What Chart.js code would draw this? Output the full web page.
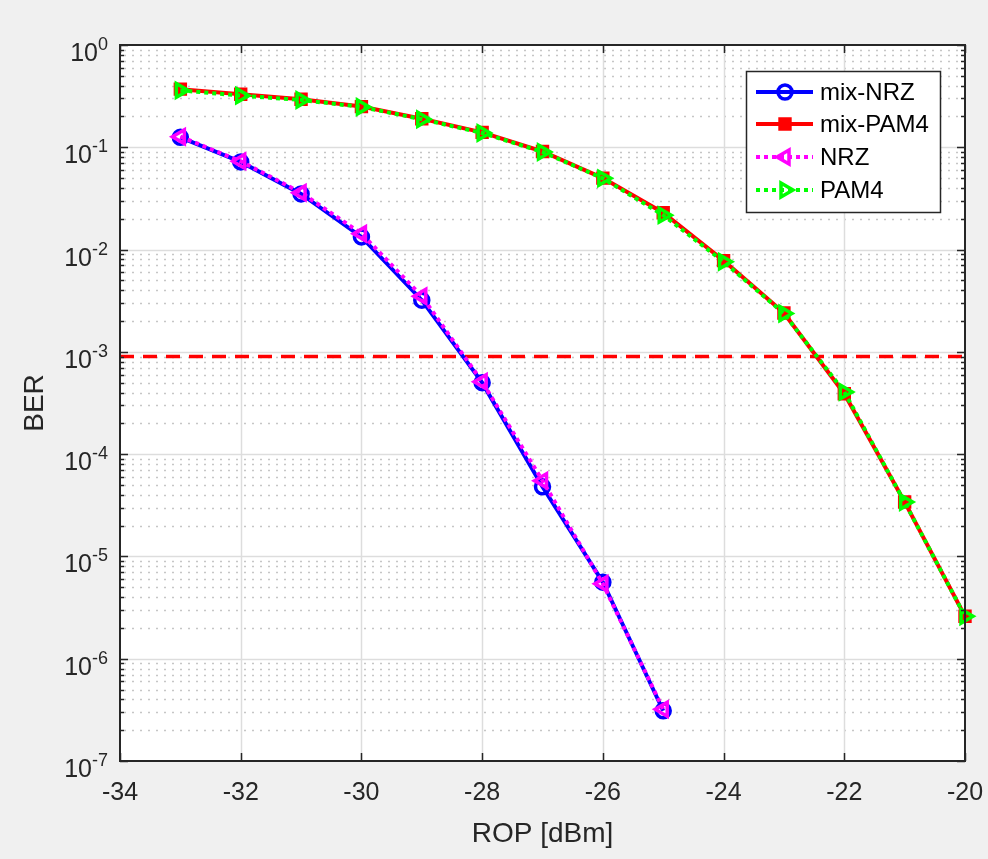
<!DOCTYPE html>
<html>
<head>
<meta charset="utf-8">
<title>BER vs ROP</title>
<script src="https://cdn.jsdelivr.net/npm/chart.js@4.4.1/dist/chart.umd.min.js"></script>
<style>
	html, body { margin: 0; padding: 0; background: #f0f0f0; }
	#berChart { display: block; }
</style>
</head>
<body>
<canvas id="berChart" width="988" height="859"></canvas>
<script>
// values
var ropNrz = [-33, -32, -31, -30, -29, -28, -27, -26, -25];
var ropPam4 = [-33, -32, -31, -30, -29, -28, -27, -26, -25, -24, -23, -22, -21, -20];

var berMixNrz = [0.125, 0.072, 0.035, 0.0133, 0.0032, 0.00050, 4.8e-5, 5.6e-6, 3.1e-7];
var berNrz = [0.127, 0.073, 0.036, 0.0143, 0.0035, 0.00051, 5.5e-5, 5.4e-6, 3.2e-7];
var berMixPam4 = [0.37, 0.33, 0.295, 0.25, 0.19, 0.14, 0.091, 0.050, 0.0229, 0.0078, 0.0024, 3.9e-4, 3.4e-5, 2.6e-6];
var berPam4 = [0.36, 0.32, 0.29, 0.248, 0.188, 0.138, 0.090, 0.0497, 0.0217, 0.0076, 0.00237, 4.06e-4, 3.4e-5, 2.6e-6];

var thresholdRop = [-34, -20];
var thresholdBer = [9e-4, 9e-4];

var xTicks = [-34, -32, -30, -28, -26, -24, -22, -20];
var yExponents = [0, -1, -2, -3, -4, -5, -6, -7];

var seriesNames = ['mix-NRZ', 'mix-PAM4', 'NRZ', 'PAM4'];

var FONT = "'Liberation Sans', Arial, sans-serif";
var AXIS_COLOR = '#262626';

function toPoints(xs, ys)
{
	var out = [];
	for (var i = 0; i < xs.length; i++)
	{
		out.push({x: xs[i], y: ys[i]});
	}
	return out;
}

// same shapes chart.js uses, for the hand drawn legend
function drawMarker(ctx, ds, x, y)
{
	var r = ds.pointRadius;
	ctx.save();
	ctx.setLineDash([]);
	ctx.lineWidth = ds.pointBorderWidth;
	ctx.strokeStyle = ds.pointBorderColor;
	ctx.fillStyle = ds.pointBackgroundColor;
	ctx.beginPath();
	if (ds.pointStyle === 'circle')
	{
		ctx.arc(x, y, r, 0, Math.PI * 2);
	}
	else if (ds.pointStyle === 'rect')
	{
		var s = r * Math.SQRT1_2;
		ctx.rect(x - s, y - s, 2 * s, 2 * s);
	}
	else
	{
		var rad = (ds.pointRotation || 0) * Math.PI / 180;
		ctx.moveTo(x + Math.sin(rad) * r, y - Math.cos(rad) * r);
		rad += Math.PI * 2 / 3;
		ctx.lineTo(x + Math.sin(rad) * r, y - Math.cos(rad) * r);
		rad += Math.PI * 2 / 3;
		ctx.lineTo(x + Math.sin(rad) * r, y - Math.cos(rad) * r);
		ctx.closePath();
	}
	ctx.fill();
	ctx.stroke();
	ctx.restore();
}

var matlabAxes = {
	id: 'matlabAxes',
	beforeDraw: function (chart)
	{
		var ctx = chart.ctx;
		var a = chart.chartArea;
		ctx.save();
		ctx.fillStyle = '#f0f0f0';
		ctx.fillRect(0, 0, chart.width, chart.height);
		ctx.fillStyle = '#ffffff';
		ctx.fillRect(a.left, a.top, a.right - a.left, a.bottom - a.top);
		ctx.restore();
	},
	beforeDatasetsDraw: function (chart)
	{
		var ctx = chart.ctx;
		var a = chart.chartArea;
		var xs = chart.scales.x;
		var ys = chart.scales.y;
		var i, k, y, x;
		ctx.save();
		// minor grid, dotted
		ctx.strokeStyle = '#c6c6c6';
		ctx.lineWidth = 1.6;
		ctx.setLineDash([2, 6]);
		ctx.lineDashOffset = -4;
		for (i = 0; i < yExponents.length - 1; i++)
		{
			for (k = 2; k <= 9; k++)
			{
				y = Math.round(ys.getPixelForValue(k * Math.pow(10, yExponents[i + 1]))) + 0.5;
				ctx.beginPath();
				ctx.moveTo(a.left, y);
				ctx.lineTo(a.right, y);
				ctx.stroke();
			}
		}
		// major grid
		ctx.setLineDash([]);
		ctx.strokeStyle = '#dddddd';
		ctx.lineWidth = 1.5;
		for (i = 1; i < yExponents.length - 1; i++)
		{
			y = Math.round(ys.getPixelForValue(Math.pow(10, yExponents[i]))) + 0.5;
			ctx.beginPath();
			ctx.moveTo(a.left, y);
			ctx.lineTo(a.right, y);
			ctx.stroke();
		}
		for (i = 1; i < xTicks.length - 1; i++)
		{
			x = Math.round(xs.getPixelForValue(xTicks[i])) + 0.5;
			ctx.beginPath();
			ctx.moveTo(x, a.top);
			ctx.lineTo(x, a.bottom);
			ctx.stroke();
		}
		ctx.restore();
	},
	afterDatasetsDraw: function (chart)
	{
		var ctx = chart.ctx;
		var a = chart.chartArea;
		var xs = chart.scales.x;
		var ys = chart.scales.y;
		var i, k, x, y;
		ctx.save();
		ctx.strokeStyle = AXIS_COLOR;
		ctx.lineWidth = 2;
		ctx.setLineDash([]);
		ctx.strokeRect(a.left, a.top, a.right - a.left, a.bottom - a.top);

		// ticks, inside, all four sides
		ctx.lineWidth = 1.5;
		ctx.beginPath();
		for (i = 0; i < xTicks.length; i++)
		{
			x = Math.round(xs.getPixelForValue(xTicks[i])) + 0.5;
			ctx.moveTo(x, a.bottom); ctx.lineTo(x, a.bottom - 8);
			ctx.moveTo(x, a.top); ctx.lineTo(x, a.top + 8);
		}
		for (i = 0; i < yExponents.length; i++)
		{
			y = Math.round(ys.getPixelForValue(Math.pow(10, yExponents[i]))) + 0.5;
			ctx.moveTo(a.left, y); ctx.lineTo(a.left + 8, y);
			ctx.moveTo(a.right, y); ctx.lineTo(a.right - 8, y);
			if (i < yExponents.length - 1)
			{
				for (k = 2; k <= 9; k++)
				{
					y = Math.round(ys.getPixelForValue(k * Math.pow(10, yExponents[i + 1]))) + 0.5;
					ctx.moveTo(a.left, y); ctx.lineTo(a.left + 4, y);
					ctx.moveTo(a.right, y); ctx.lineTo(a.right - 4, y);
				}
			}
		}
		ctx.stroke();

		// tick labels
		ctx.fillStyle = AXIS_COLOR;
		ctx.textBaseline = 'alphabetic';
		ctx.textAlign = 'center';
		ctx.font = '25px ' + FONT;
		for (i = 0; i < xTicks.length; i++)
		{
			ctx.fillText(String(xTicks[i]), xs.getPixelForValue(xTicks[i]), a.bottom + 39);
		}
		ctx.textAlign = 'right';
		for (i = 0; i < yExponents.length; i++)
		{
			y = ys.getPixelForValue(Math.pow(10, yExponents[i]));
			var ex = String(yExponents[i]);
			ctx.font = '18px ' + FONT;
			var w = ctx.measureText(ex).width;
			ctx.fillText(ex, 108, y + 5);
			ctx.font = '25px ' + FONT;
			ctx.fillText('10', 108 - w, y + 16);
		}

		// axis titles
		ctx.font = '28px ' + FONT;
		ctx.textAlign = 'center';
		ctx.fillText('ROP [dBm]', (a.left + a.right) / 2, 842);
		ctx.translate(43, (a.top + a.bottom) / 2);
		ctx.rotate(-Math.PI / 2);
		ctx.fillText('BER', 0, 0);
		ctx.restore();

		// legend box
		var lx = 746, ly = 71, lw = 194, lh = 141;
		ctx.save();
		ctx.fillStyle = '#ffffff';
		ctx.fillRect(lx, ly, lw, lh);
		ctx.strokeStyle = AXIS_COLOR;
		ctx.lineWidth = 1.5;
		ctx.strokeRect(lx + 0.5, ly + 0.5, lw, lh);
		var rows = [92, 124, 157, 190];
		for (i = 0; i < seriesNames.length; i++)
		{
			var ds = chart.data.datasets[i];
			ctx.strokeStyle = ds.borderColor;
			ctx.lineWidth = ds.borderWidth;
			ctx.setLineDash(ds.borderDash || []);
			ctx.beginPath();
			ctx.moveTo(756, rows[i]);
			ctx.lineTo(813, rows[i]);
			ctx.stroke();
			drawMarker(ctx, ds, 785, rows[i]);
			ctx.fillStyle = '#000000';
			ctx.font = '24px ' + FONT;
			ctx.textAlign = 'left';
			ctx.textBaseline = 'middle';
			ctx.fillText(seriesNames[i], 820, rows[i] + 1);
		}
		ctx.restore();
	}
};

var ctx = document.getElementById('berChart');
var berChart = new Chart(ctx, {
	type: 'line',
	data: {
		datasets: [
		{
			label: seriesNames[0],
			data: toPoints(ropNrz, berMixNrz),
			borderColor: '#0000ff',
			borderWidth: 4,
			pointStyle: 'circle',
			pointRadius: 7,
			pointBorderWidth: 3.5,
			pointBorderColor: '#0000ff',
			pointBackgroundColor: 'rgba(0,0,0,0)',
			order: 4
		},
		{
			label: seriesNames[1],
			data: toPoints(ropPam4, berMixPam4),
			borderColor: '#ff0000',
			borderWidth: 4,
			pointStyle: 'rect',
			pointRadius: 7,
			pointBorderWidth: 3.5,
			pointBorderColor: '#ff0000',
			pointBackgroundColor: '#ff0000',
			order: 3
		},
		{
			label: seriesNames[2],
			data: toPoints(ropNrz, berNrz),
			borderColor: '#ff00ff',
			borderWidth: 4,
			borderDash: [4, 4],
			pointStyle: 'triangle',
			pointRotation: -90,
			pointRadius: 8,
			pointBorderWidth: 3.5,
			pointBorderColor: '#ff00ff',
			pointBackgroundColor: 'rgba(0,0,0,0)',
			order: 2
		},
		{
			label: seriesNames[3],
			data: toPoints(ropPam4, berPam4),
			borderColor: '#00ff00',
			borderWidth: 4,
			borderDash: [4, 4],
			pointStyle: 'triangle',
			pointRotation: 90,
			pointRadius: 8,
			pointBorderWidth: 3.5,
			pointBorderColor: '#00ff00',
			pointBackgroundColor: 'rgba(0,0,0,0)',
			order: 1
		},
		{
			label: 'threshold',
			data: toPoints(thresholdRop, thresholdBer),
			borderColor: '#ff0000',
			borderWidth: 3.5,
			borderDash: [14, 9],
			pointRadius: 0,
			order: 5
		}]
	},
	options: {
		responsive: false,
		animation: false,
		clip: false,
		layout: { padding: { top: 45, right: 23, left: 0, bottom: 0 } },
		plugins: {
			legend: { display: false },
			tooltip: { enabled: false }
		},
		elements: { line: { tension: 0 } },
		scales: {
			x: {
				type: 'linear',
				min: -34,
				max: -20,
				grid: { display: false },
				border: { display: false },
				ticks: { display: false },
				afterFit: function (scale) { scale.height = 98; }
			},
			y: {
				type: 'logarithmic',
				min: 1e-7,
				max: 1,
				grid: { display: false },
				border: { display: false },
				ticks: { display: false },
				afterFit: function (scale) { scale.width = 120; }
			}
		}
	},
	plugins: [matlabAxes]
});
</script>
</body>
</html>
